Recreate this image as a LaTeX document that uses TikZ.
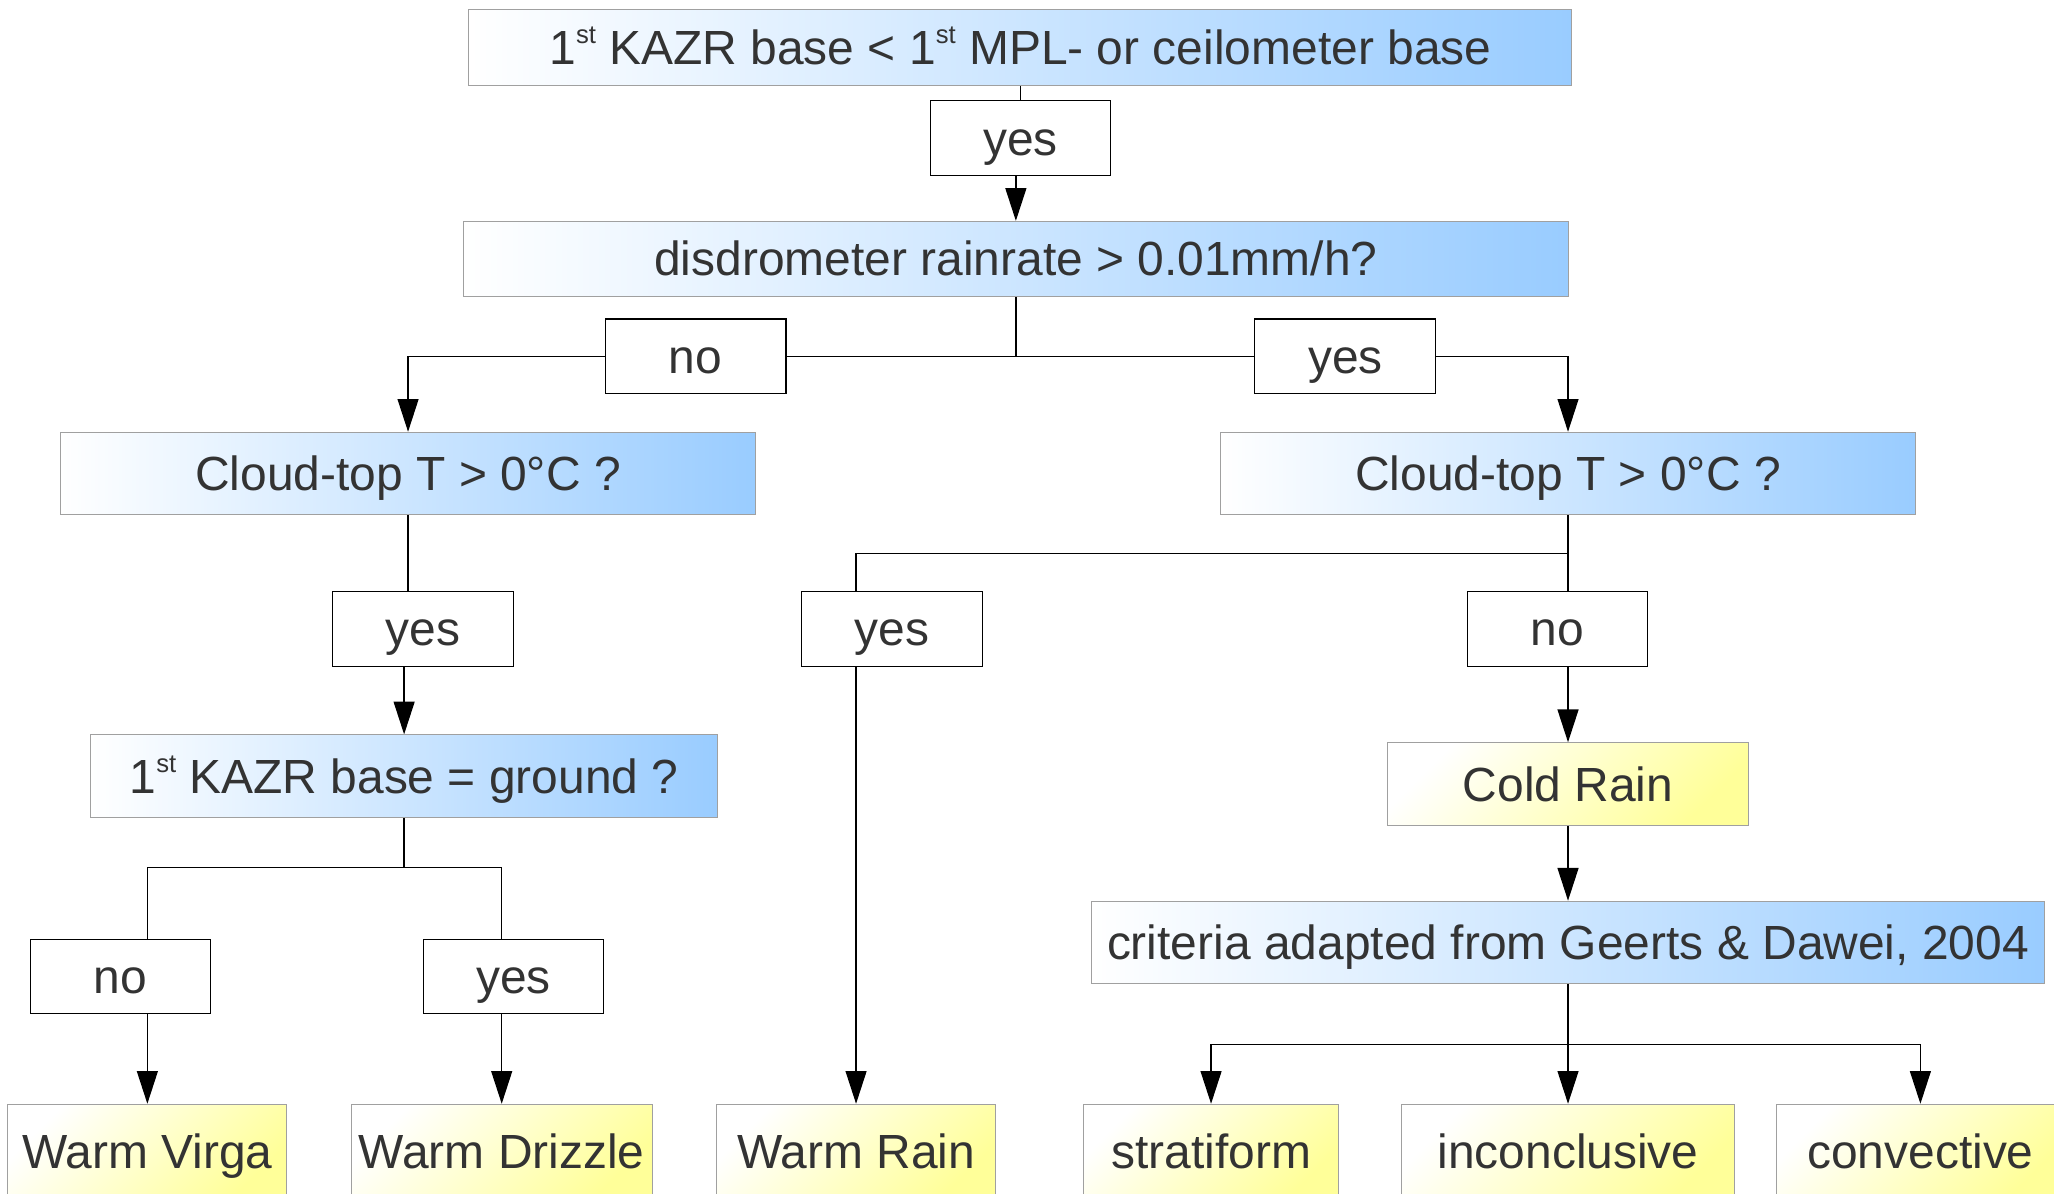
\documentclass[tikz,border=0pt]{standalone}
\usepackage{fontspec}
\setmainfont{Liberation Sans}
\usetikzlibrary{arrows.meta, positioning, backgrounds}

\definecolor{txtgray}{HTML}{333333}
\definecolor{boxline}{HTML}{A0A0A0}
\definecolor{qblue}{HTML}{99CCFF}
\definecolor{ryellow}{HTML}{FFFF99}

% small raised "st" after the 1
\newcommand{\ordsup}[1]{\raisebox{8pt}{\fontsize{9.8}{10}\selectfont #1}}

\begin{document}
\begin{tikzpicture}[
  x=0.5pt, y=-0.5pt,
  font=\fontsize{18.3}{21}\selectfont, text=txtgray,
  every node/.style={text height=17pt, text depth=4pt},
  quest/.style={rectangle, draw=boxline, left color=white, right color=qblue,
                inner sep=0pt, minimum height=31.5pt},
  answer/.style={rectangle, draw=black, fill=white, inner sep=0pt,
                 minimum width=69pt, minimum height=28.5pt},
  result/.style={rectangle, draw=boxline, left color=white, right color=ryellow,
                 shading angle=45, inner sep=0pt, minimum height=36pt},
  arr/.style={-{Triangle[length=12.5pt, width=8pt]}, line width=0.5pt},
  link/.style={line width=0.5pt}
]
\useasboundingbox (0,0) rectangle (1568,911);

% questions
\node[quest, minimum width=421pt, minimum height=29pt] (kazr) at (779,36)
  {1\ordsup{st} KAZR base < 1\ordsup{st} MPL- or ceilometer base};
\node[quest, minimum width=421.5pt, minimum height=28.5pt] (disdro) at (775.5,197.5)
  {disdrometer rainrate > 0.01mm/h?};
\node[quest, minimum width=265.5pt] (ctopL) at (311.5,361.5) {Cloud-top T > 0°C ?};
\node[quest, minimum width=265pt] (ctopR) at (1197,361.5) {Cloud-top T > 0°C ?};
\node[quest, minimum width=239.5pt] (ground) at (308.5,592.5) {1\ordsup{st} KAZR base = ground ?};
\node[quest, minimum width=363.5pt] (geerts) at (1197,719.5) {criteria adapted from Geerts \& Dawei, 2004};

% answers
\node[answer] (yes1) at (779,105.5) {yes};
\node[answer] (no2) at (531,272) {no};
\node[answer] (yes2) at (1027,272) {yes};
\node[answer] (yes3) at (323,480) {yes};
\node[answer] (no4) at (92,745.5) {no};
\node[answer] (yes4) at (392,745.5) {yes};
\node[answer] (yes5) at (681,480) {yes};
\node[answer] (no5) at (1189,480) {no};

% results
\node[result, minimum width=138pt, minimum height=31.5pt] (cold) at (1197,598.5) {Cold Rain};
\node[result, minimum width=106.5pt] (virga) at (112.5,879) {Warm Virga\hspace{9pt}};
\node[result, minimum width=115pt] (drizzle) at (383,879) {Warm Drizzle};
\node[result, minimum width=106.5pt] (wrain) at (653.5,879) {Warm Rain};
\node[result, minimum width=97.5pt] (strat) at (924.5,879) {stratiform};
\node[result, minimum width=127pt] (incon) at (1197,879) {inconclusive};
\node[result, minimum width=110pt] (conv) at (1466,879) {convective};

% connectors, kept under the answer boxes
\begin{scope}[on background layer]
\draw[link] (kazr.south) -- (yes1.north);
\draw[arr] (disdro.north |- yes1.south) -- (disdro.north);
\draw[link] (disdro.south) |- (no2.east);
\draw[arr] (no2.west) -| (ctopL.north);
\draw[link] (disdro.south) |- (yes2.west);
\draw[arr] (yes2.east) -| (ctopR.north);

\draw[link] (ctopL.south) -- (ctopL.south |- yes3.north);
\draw[arr] (ground.north |- yes3.south) -- (ground.north);
\draw[arr] (ground.south) -- ++(0,38) -| (virga.north);
\draw[arr] (ground.south) -- ++(0,38) -| (drizzle.north);

\draw[arr] (ctopR.south) -- ++(0,29) -| (wrain.north);
\draw[arr] (ctopR.south) -- (cold.north);
\draw[arr] (cold.south) -- (geerts.north);
\draw[arr] (geerts.south) -- ++(0,46) -| (strat.north);
\draw[arr] (geerts.south) -- (incon.north);
\draw[arr] (geerts.south) -- ++(0,46) -| (conv.north);
\end{scope}
\end{tikzpicture}
\end{document}
